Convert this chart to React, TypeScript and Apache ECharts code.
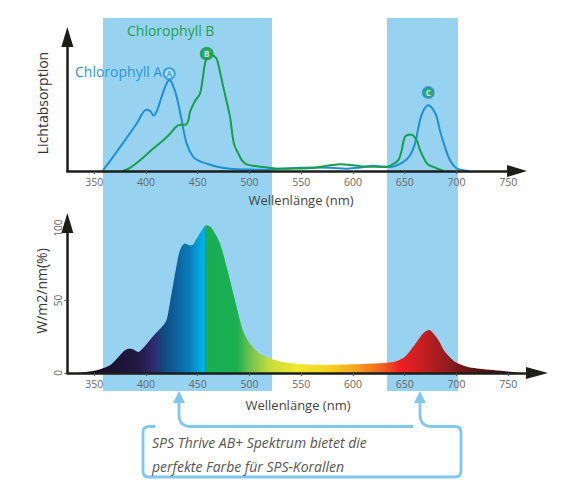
import React, { useEffect, useRef } from 'react';
import * as echarts from 'echarts';

// ---------- data ----------
const wavelengthTicks = [350, 400, 450, 500, 550, 600, 650, 700, 750];
const powerTicks = [0, 50, 100];

const chlorophyllA: [number, number][] = [
  [358, 0], [368, 12], [380, 27], [391, 41], [400.5, 53], [404, 52], [407.5, 48], [411, 53],
  [415, 64], [420, 76], [423, 78.5], [426.5, 73], [429.7, 64], [434.5, 44], [439.3, 23.7],
  [445.7, 12.1], [452, 8.5], [458.7, 6.4], [470, 3.5], [481, 2], [500, 1.2], [513.5, 1],
  [529.5, 2], [545, 2.6], [561.5, 3], [578, 2.8], [594.5, 2], [607, 3], [619.5, 4.6],
  [628, 3.8], [636, 3.5], [648.7, 7.8], [655.2, 13.6], [660, 23.7], [664.8, 43.9], [668.5, 53],
  [672.8, 57], [677, 54], [681, 46.8], [684, 35.2], [688.9, 20.8], [693.8, 9.3], [698.6, 3.5],
  [703.5, 1.2], [712, 0],
];

const chlorophyllB: [number, number][] = [
  [377.5, 0], [385, 3], [394, 9], [407, 19.4], [416.5, 26.5], [423, 32], [429.7, 38.7],
  [434, 40], [438, 40], [441, 44], [442.5, 51], [447, 60], [452.2, 67], [454.5, 78], [457, 93],
  [459.5, 99.5], [462, 101.6], [465, 100], [468.3, 97], [471.5, 86], [474.7, 72.7], [478, 60],
  [481.2, 46.8], [485, 23.7], [489.2, 15], [493, 9], [497.3, 5.8], [505, 4.3], [513.5, 3.5],
  [529.5, 2], [545, 2.2], [561.5, 2.6], [575, 4.5], [588.5, 5.8], [600, 5], [609.5, 4],
  [620, 3.6], [632.5, 3.5], [638, 5.5], [643.8, 9.3], [647.1, 17.9], [650.3, 29.4],
  [656.1, 31.5], [661.6, 26.6], [664.5, 19], [668, 12.1], [672, 6], [677.7, 3.5], [687.5, 0],
];

const spectrum: [number, number][] = [
  [330, 0], [336, 0.2], [345, 1], [352.4, 1.9], [359, 3.4], [365.2, 5.3], [370, 8.5],
  [374.9, 12.2], [379, 15.3], [383, 16.8], [387, 16.5], [392.6, 14.5], [397, 17], [402.2, 21.4],
  [409, 27], [416.7, 32.9], [420, 37], [423, 48], [426.4, 61.7], [429.5, 74], [432.9, 84.7],
  [437.7, 89.3], [441, 88.3], [444.2, 88.1], [449, 92.8], [454, 98.5], [458.7, 102], [462, 101],
  [465, 98.5], [471.5, 89.3], [478, 73], [484.4, 54.8], [490.8, 36.4], [495, 27], [500.5, 20.3],
  [507, 15], [513.5, 12], [522, 9.5], [532.5, 7.6], [545, 6.4], [555, 5.8], [575, 5.6],
  [593.5, 5.8], [615, 6.3], [635.5, 7.2], [643, 8.5], [650, 11], [656, 16], [663, 22.7],
  [668, 27.5], [673.5, 29.6], [678, 27], [683.5, 21.5], [688, 15.5], [693.5, 11], [698, 8],
  [703.5, 6], [712, 4], [722.5, 3], [735, 2], [754.5, 0.7], [760, 0],
];

const markerLabels = ['A', 'B', 'C'];
const markerPositions: [number, number][] = [[422.5, 84.3], [458.7, 101.6], [672.8, 67.9]];

const highlightBands: [number, number][] = [[358.4, 521.8], [632.9, 701.5]];

// wavelength -> colour of the spectrum fill
const spectrumColors: [number, string][] = [
  [330, '#150c22'], [365, '#1a1030'], [394, '#231a48'], [407, '#2e2a6a'], [418, '#0f4c82'],
  [442, '#0a7cba'], [454, '#00aee8'], [456.5, '#00aee8'], [457.5, '#19ae55'], [488, '#1aaf50'],
  [500, '#6cc050'], [520, '#c8dc3c'], [546, '#f0e830'], [578, '#f6d020'], [604, '#f4a020'],
  [629, '#f06020'], [645, '#ee2024'], [668, '#c41f22'], [694, '#8a1c1c'], [716, '#5a1614'],
  [749, '#3a1010'], [760, '#2a0c0c'],
];

// ---------- layout ----------
const W = 566;
const H = 483;
const X_MIN = 324;
const PX_PER_NM = 1.0347;
const LEFT = 67.35;
const TOP_XMAX = 758.6;
const BOT_XMAX = 777.9;
const rightFor = (xmax: number) => W - (LEFT + (xmax - X_MIN) * PX_PER_NM);

const AXIS_COLOR = '#1d1d1b';
const BLUE = '#1d90d3';
const GREEN = '#169e4c';
const BAND = '#97d3f1';
const CALLOUT = '#7fc8ec';
const FONT = 'Open Sans';

const calloutD =
  'M155 426.5 H149 Q143 426.5 143 432.5 V471 Q143 477 149 477 H455 Q461 477 461 471 V432.5 Q461 426.5 455 426.5 H432 Q420 426.5 420 414.5 V402 ' +
  'M413 426.5 H191 Q179 426.5 179 414.5 V402';

let registered = false;
function ensureShapes() {
  if (registered) return;
  echarts.graphic.registerShape('calloutPath', echarts.graphic.extendPath(calloutD, {}));
  registered = true;
}

function xAxisBase(gridIndex: number, max: number, arrowLen: number) {
  return {
    type: 'value',
    gridIndex,
    min: X_MIN,
    max,
    z: 5,
    axisLine: {
      show: true,
      onZero: false,
      symbol: ['none', 'triangle'],
      symbolSize: [12, arrowLen],
      lineStyle: { color: AXIS_COLOR, width: 2.5 },
    },
    axisTick: {
      show: true,
      length: 3,
      customValues: wavelengthTicks,
      lineStyle: { color: '#555', width: 1 },
    },
    axisLabel: {
      show: true,
      customValues: wavelengthTicks,
      margin: 5,
      fontSize: 10.5,
      color: '#666',
      fontFamily: FONT,
    },
    splitLine: { show: false },
  };
}

export default function App() {
  const ref = useRef<HTMLDivElement>(null);

  useEffect(() => {
    if (!ref.current) return;
    ensureShapes();
    const chart = echarts.init(ref.current, undefined, { renderer: 'svg' });

    const first = spectrum[0][0];
    const last = spectrum[spectrum.length - 1][0];
    const gradient = new echarts.graphic.LinearGradient(
      0, 0, 1, 0,
      spectrumColors.map(([nm, c]) => ({ offset: (nm - first) / (last - first), color: c })),
    );

    const markerColors = [
      { fill: '#bfe2f6', border: BLUE, text: BLUE },
      { fill: GREEN, border: GREEN, text: '#ffffff' },
      { fill: GREEN, border: BLUE, text: '#ffffff' },
    ];

    chart.setOption({
      animation: false,
      grid: [
        { left: LEFT, right: rightFor(TOP_XMAX), top: 37, bottom: H - 171 },
        { left: LEFT, right: rightFor(BOT_XMAX), top: 223, bottom: H - 373 },
        { left: LEFT, right: rightFor(TOP_XMAX), top: 18, bottom: H - 391 },
      ],
      xAxis: [
        xAxisBase(0, TOP_XMAX, 20),
        xAxisBase(1, BOT_XMAX, 22),
        { type: 'value', gridIndex: 2, min: X_MIN, max: TOP_XMAX, show: false },
      ],
      yAxis: [
        {
          type: 'value',
          gridIndex: 0,
          min: 0,
          max: 116,
          z: 5,
          axisLine: {
            show: true,
            symbol: ['none', 'triangle'],
            symbolSize: [12, 20],
            lineStyle: { color: AXIS_COLOR, width: 2.5 },
          },
          axisTick: { show: false },
          axisLabel: { show: false },
          splitLine: { show: false },
        },
        {
          type: 'value',
          gridIndex: 1,
          min: 0,
          max: 103.5,
          interval: 50,
          z: 5,
          axisLine: {
            show: true,
            symbol: ['none', 'triangle'],
            symbolSize: [12, 20],
            lineStyle: { color: AXIS_COLOR, width: 2.5 },
          },
          axisTick: { show: true, length: 3, lineStyle: { color: '#555' } },
          axisLabel: {
            show: true,
            rotate: 90,
            margin: 4,
            fontSize: 10,
            color: '#666',
            fontFamily: FONT,
            formatter: (v: number) => (powerTicks.includes(v) ? String(v) : ''),
          },
          splitLine: { show: false },
        },
        { type: 'value', gridIndex: 2, min: 0, max: 1, show: false },
      ],
      series: [
        {
          type: 'line',
          xAxisIndex: 2,
          yAxisIndex: 2,
          data: [[X_MIN, 0]],
          symbol: 'none',
          lineStyle: { opacity: 0 },
          silent: true,
          z: 1,
          markArea: {
            silent: true,
            itemStyle: { color: BAND, opacity: 1 },
            data: highlightBands.map(([a, b]) => [{ xAxis: a }, { xAxis: b }]),
          },
        },
        {
          name: 'Chlorophyll A',
          type: 'line',
          xAxisIndex: 0,
          yAxisIndex: 0,
          data: chlorophyllA,
          smooth: 0.35,
          symbol: 'none',
          lineStyle: { color: BLUE, width: 2 },
          z: 3,
        },
        {
          name: 'Chlorophyll B',
          type: 'line',
          xAxisIndex: 0,
          yAxisIndex: 0,
          data: chlorophyllB,
          smooth: 0.35,
          symbol: 'none',
          lineStyle: { color: GREEN, width: 2 },
          z: 3,
        },
        {
          type: 'scatter',
          xAxisIndex: 0,
          yAxisIndex: 0,
          z: 4,
          symbol: 'circle',
          data: markerPositions.map((p, i) => ({
            value: p,
            name: markerLabels[i],
            symbolSize: i === 1 ? 12 : 11,
            itemStyle: {
              color: markerColors[i].fill,
              borderColor: markerColors[i].border,
              borderWidth: 1.8,
            },
            label: {
              show: true,
              position: 'inside',
              formatter: markerLabels[i],
              color: markerColors[i].text,
              fontSize: 8,
              fontWeight: 'bold',
              fontFamily: FONT,
            },
          })),
        },
        {
          name: 'Spektrum',
          type: 'line',
          xAxisIndex: 1,
          yAxisIndex: 1,
          data: spectrum,
          smooth: 0.35,
          symbol: 'none',
          lineStyle: { width: 0 },
          areaStyle: { color: gradient, opacity: 1 },
          z: 3,
        },
      ],
      graphic: [
        {
          type: 'text',
          left: 127,
          top: 23,
          style: { text: 'Chlorophyll B', fill: '#1e9e50', fontSize: 14, fontFamily: FONT, fontWeight: 500 },
          z: 10,
        },
        {
          type: 'text',
          left: 75,
          top: 64,
          style: { text: 'Chlorophyll A', fill: '#2a95d5', fontSize: 14, fontFamily: FONT, fontWeight: 500 },
          z: 10,
        },
        {
          type: 'text',
          x: 42,
          y: 103,
          rotation: Math.PI / 2,
          style: {
            text: 'Lichtabsorption',
            fill: '#333',
            fontSize: 14,
            fontFamily: FONT,
            textAlign: 'center',
            textVerticalAlign: 'middle',
          },
          z: 10,
        },
        {
          type: 'text',
          x: 41,
          y: 291,
          rotation: Math.PI / 2,
          style: {
            text: 'W/m2/nm(%)',
            fill: '#333',
            fontSize: 14,
            fontFamily: FONT,
            textAlign: 'center',
            textVerticalAlign: 'middle',
          },
          z: 10,
        },
        {
          type: 'text',
          x: 301,
          y: 200,
          style: {
            text: 'Wellenlänge (nm)',
            fill: '#444',
            fontSize: 13,
            fontFamily: FONT,
            textAlign: 'center',
            textVerticalAlign: 'middle',
          },
          z: 10,
        },
        {
          type: 'text',
          x: 298,
          y: 405,
          style: {
            text: 'Wellenlänge (nm)',
            fill: '#444',
            fontSize: 13,
            fontFamily: FONT,
            textAlign: 'center',
            textVerticalAlign: 'middle',
          },
          z: 10,
        },
        {
          type: 'calloutPath',
          x: 0,
          y: 0,
          scaleX: 1,
          scaleY: 1,
          style: { fill: 'none', stroke: CALLOUT, lineWidth: 2.8 },
          z: 10,
        },
        {
          type: 'polygon',
          shape: { points: [[179, 391], [173, 403], [185, 403]] },
          style: { fill: CALLOUT },
          z: 10,
        },
        {
          type: 'polygon',
          shape: { points: [[420, 391], [414, 403], [426, 403]] },
          style: { fill: CALLOUT },
          z: 10,
        },
        {
          type: 'text',
          x: 152,
          y: 442,
          style: {
            text: 'SPS Thrive AB+ Spektrum bietet die',
            fill: '#555',
            fontSize: 14,
            fontStyle: 'italic',
            fontFamily: FONT,
            textVerticalAlign: 'middle',
          },
          z: 10,
        },
        {
          type: 'text',
          x: 152,
          y: 466,
          style: {
            text: 'perfekte Farbe für SPS-Korallen',
            fill: '#555',
            fontSize: 14,
            fontStyle: 'italic',
            fontFamily: FONT,
            textVerticalAlign: 'middle',
          },
          z: 10,
        },
      ],
    });

    return () => chart.dispose();
  }, []);

  return (
    <div
      ref={ref}
      style={{ position: 'fixed', left: 0, top: 0, width: W, height: H, background: '#ffffff' }}
    />
  );
}
